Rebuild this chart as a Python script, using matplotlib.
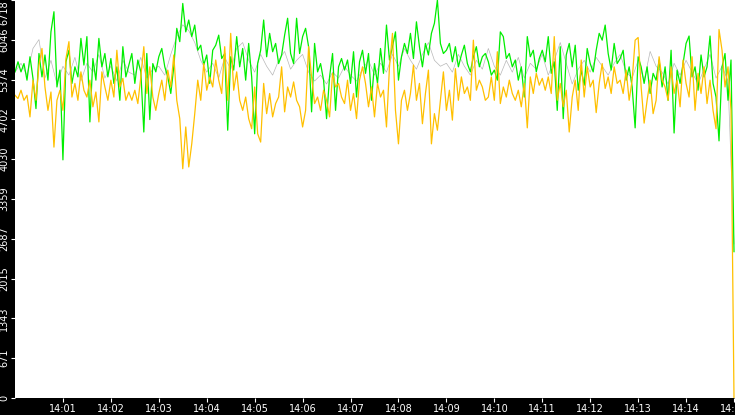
import numpy as np
import matplotlib
matplotlib.use('Agg')
import matplotlib.pyplot as plt

# values, 14:00:00 -> 14:15:00
green = [5505, 5675, 5505, 5645, 5365, 5760, 5395, 4885, 5815, 5420, 5790, 5365,
         6180, 6520, 5250, 5535, 4020, 5675, 5870, 5310, 5590, 5420, 6070, 5620,
         6100, 4660, 5730, 5365, 6070, 5590, 5815, 5420, 5730, 5310, 5590, 5025,
         5930, 5420, 5620, 5815, 5310, 5705, 5505, 4490, 5815, 4700, 5645, 5505,
         5760, 5900, 5590, 5420, 5140, 5590, 6240, 6015, 6660, 6180, 6380, 6100,
         6295, 5870, 5955, 5620, 5790, 5310, 5870, 5955, 6125, 5730, 5815, 4520,
         5760, 5535, 6100, 5590, 5900, 5365, 5985, 5420, 4460, 5645, 5870, 6380,
         5760, 6155, 5845, 5985, 5645, 5790, 6125, 6410, 5815, 5645, 6410, 5815,
         6100, 6240, 5930, 4830, 5985, 5505, 5645, 5365, 4715, 5420, 5815, 4855,
         5590, 5730, 5535, 5705, 5310, 5845, 5080, 5675, 5870, 5480, 5815, 5025,
         5645, 5310, 5900, 5480, 6295, 5705, 5930, 6180, 5365, 5760, 5985, 5815,
         6155, 5730, 6350, 5930, 5590, 5985, 5790, 6155, 6325, 6718, 5985, 5815,
         5870, 5985, 5675, 5930, 5590, 5790, 5955, 5645, 5505, 5760, 5930, 5590,
         5760, 5815, 5675, 5450, 5535, 5365, 6180, 6100, 5730, 5815, 5590, 5705,
         5365, 5590, 5080, 6100, 5760, 5870, 5505, 5730, 5870, 5675, 6100, 5480,
         5675, 4855, 5930, 4715, 5790, 5985, 5590, 5955, 5195, 5535, 5280, 5900,
         5645, 5505, 5870, 6155, 6040, 6295, 5815, 5535, 5985, 5645, 5730, 5870,
         5365, 5590, 5250, 4560, 5760, 5590, 5310, 5590, 5140, 5480, 5365, 5705,
         5250, 5590, 5025, 5870, 4473, 5535, 5310, 5645, 5985, 6110, 5420, 5590,
         5195, 5790, 5420, 5590, 6110, 5310, 5080, 4340, 5590, 5815, 5025, 5705,
         2470]

orange = [5110, 5055, 5195, 5025, 5110, 4745, 5365, 5025, 5620, 5900, 5250, 4855,
          5165, 4235, 5025, 5195, 4855, 5730, 6015, 5080, 5310, 5025, 5505, 5195,
          5080, 5365, 4915, 5165, 4660, 5505, 5250, 5025, 5365, 5080, 5870, 5250,
          5395, 5025, 5165, 5025, 5195, 4970, 5420, 5930, 5140, 5590, 5080, 4855,
          5140, 5365, 5025, 5535, 5250, 5790, 5025, 4715, 3870, 4575, 3900, 4290,
          4800, 5365, 5025, 5645, 5195, 5420, 5250, 5705, 5365, 5140, 5930, 5025,
          6155, 5195, 5505, 5025, 4855, 5080, 4715, 4545, 5250, 4460, 4320, 5310,
          4800, 5140, 4745, 4970, 5080, 5590, 4830, 5250, 5080, 5335, 5025, 4915,
          4575, 4855, 5930, 5420, 4970, 5080, 4855, 5195, 5025, 4745, 5480, 5250,
          5310, 5080, 4970, 5365, 4855, 5140, 4715, 5365, 5590, 5310, 4915, 5250,
          4745, 5310, 5080, 5195, 4575, 5590, 6155, 4855, 4290, 5025, 5195, 4855,
          5140, 5620, 5025, 5310, 4630, 5140, 5535, 4290, 4800, 4520, 5025, 5505,
          4855, 5195, 4690, 5560, 5025, 5420, 5140, 5250, 5025, 6040, 5195, 5365,
          5250, 5025, 5080, 5420, 5025, 5845, 4970, 5250, 5080, 5365, 5140, 5025,
          5195, 4915, 5310, 4560, 5420, 5140, 5480, 5280, 5395, 5195, 5420, 5140,
          6100, 5025, 5310, 4915, 5195, 4490, 5080, 5365, 4855, 5705, 5080, 5590,
          5250, 5365, 4817, 5310, 5645, 5225, 5420, 5140, 5590, 5310, 5365, 5140,
          5535, 5025, 5365, 6040, 6085, 5250, 4640, 5025, 5365, 4800, 5025, 5760,
          5365, 5250, 5025, 5590, 5140, 5365, 4915, 5705, 5310, 5080, 5760, 4855,
          5480, 5140, 5590, 4970, 5365, 4855, 4545, 6220, 5870, 5250, 5590, 4855,
          0]

grey = [5500, 5650, 5450, 5900, 6050, 5400, 5700, 5300, 5600, 5450, 5750, 5350,
        5650, 5500, 5800, 5400, 5600, 5350, 5700, 5500, 5450, 5750, 5400, 5550,
        5600, 5450, 5800, 6100, 6300, 6200, 6000, 5700, 5500, 5650, 5400, 5750,
        5550, 5900, 6000, 5700, 5500, 5800, 5600, 5450, 5700, 5850, 5550, 5700,
        5800, 5500, 5350, 5450, 5300, 5500, 5400, 5600, 5450, 5350, 5550, 5700,
        5450, 5650, 5500, 5800, 5600, 5900, 5700, 5550, 5800, 6000, 5700, 5600,
        5650, 5500, 5800, 5600, 5450, 5700, 5550, 5900, 5600, 5450, 5700, 5500,
        5750, 5400, 5650, 5550, 5800, 5450, 5700, 6000, 5650, 5300, 5550, 5700,
        5500, 5750, 5600, 5450, 5650, 5800, 5500, 5400, 5700, 5350, 5850, 5600,
        5500, 5300, 5650, 5450, 5700, 5500, 5300, 5550, 5800, 5400, 5600, 5350,
        2600]

yticks = [0, 671, 1343, 2015, 2687, 3359, 4030, 4702, 5374, 6046, 6718]
xlabels = ['14:01', '14:02', '14:03', '14:04', '14:05', '14:06', '14:07', '14:08',
           '14:09', '14:10', '14:11', '14:12', '14:13', '14:14', '14:15']
total_sec = 900

t_main = np.linspace(0, total_sec, len(green))
t_grey = np.linspace(0, total_sec, len(grey))

fig = plt.figure(figsize=(7.35, 4.15), dpi=100, facecolor='black')
ax = fig.add_axes([15 / 735, 17 / 415, 720 / 735, 398 / 415])
ax.set_facecolor('white')

ax.plot(t_grey, grey, color='#b8b8b8', lw=0.5)
ax.plot(t_main, green, color='#00ee00', lw=0.9)
ax.plot(t_main, orange, color='#ffc000', lw=0.9)

ax.set_xlim(0, total_sec * 720 / 719)
ax.set_ylim(0, 6718)

ax.set_xticks(np.arange(60, total_sec + 1, 60))
ax.set_xticklabels(xlabels)
ax.set_yticks(yticks)
ax.set_yticklabels([str(v) for v in yticks], rotation=90, va='center')
ax.get_yticklabels()[-1].set_verticalalignment('top')

ax.tick_params(colors='white', labelsize=7, length=3, width=0.8, direction='out')
ax.tick_params(axis='y', pad=1)
ax.tick_params(axis='x', pad=1)
for s in ax.spines.values():
    s.set_visible(False)

fig.savefig('out.png', dpi=100, facecolor='black')
